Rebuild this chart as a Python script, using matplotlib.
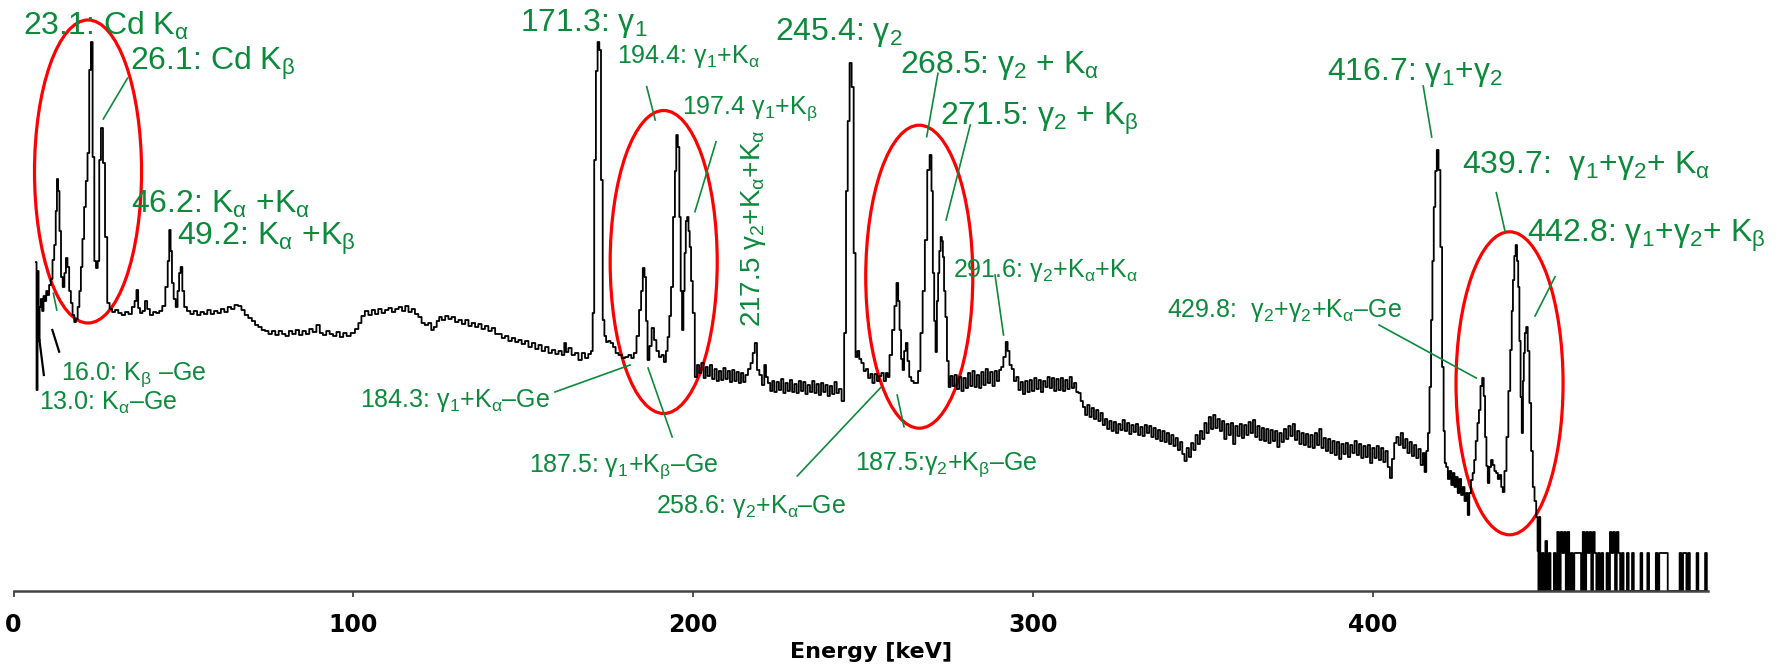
import numpy as np
import matplotlib.pyplot as plt
from matplotlib.patches import Ellipse

plt.rcParams['font.family'] = ['Liberation Sans', 'DejaVu Sans']
plt.rcParams['mathtext.fontset'] = 'custom'
plt.rcParams['mathtext.rm'] = 'Liberation Sans'
plt.rcParams['mathtext.it'] = 'Liberation Sans'
plt.rcParams['mathtext.bf'] = 'Liberation Sans:bold'
plt.rcParams['mathtext.default'] = 'regular'

# spectrum: (energy keV, counts, arb. units)
xray_region = [
    (6.6, 329), (6.9, 201), (7.2, 320), (7.5, 250), (7.8, 284), (8.2, 292), (8.6, 280),
    (9.0, 295), (9.4, 290), (9.8, 300), (10.2, 296), (10.7, 306), (11.2, 312), (11.7, 331),
    (12.2, 346), (12.6, 380), (12.9, 412), (13.3, 400), (13.7, 360), (14.2, 314), (14.7, 304),
    (15.2, 318), (15.6, 333), (16.1, 324), (16.6, 300), (17.1, 288), (17.6, 276), (18.1, 269),
    (18.6, 272), (19.1, 284), (19.6, 300), (20.0, 324), (20.5, 352), (21.0, 384), (21.5, 410),
    (22.0, 438), (22.5, 521), (23.0, 549), (23.5, 434), (24.0, 330), (24.5, 323), (25.0, 330),
    (25.4, 431), (26.0, 463), (26.6, 428), (27.2, 354), (27.9, 288), (28.6, 282), (29.4, 279),
    (30.3, 281), (31.3, 278), (32.3, 276), (33.3, 279), (34.3, 277), (35.3, 284), (35.9, 290),
    (36.4, 301), (36.9, 283), (37.5, 278), (38.3, 280), (39.0, 290), (39.6, 282), (40.6, 276),
    (41.5, 279), (42.4, 278), (43.3, 280), (44.2, 285), (45.1, 304), (45.6, 330), (46.0, 361),
    (46.4, 340), (46.8, 308), (47.4, 292), (48.0, 284), (48.5, 300), (48.9, 318), (49.4, 324),
    (49.9, 300), (50.5, 284),
]

bg_low = [
    (51.5, 280), (52.5, 277), (53.5, 280), (54.5, 276), (55.5, 279), (56.5, 277), (57.5, 281),
    (58.5, 277), (59.5, 280), (60.5, 278), (61.5, 282), (62.5, 279), (63.5, 284), (64.5, 282),
    (65.5, 286), (66.6, 285), (67.5, 281), (68.5, 276), (69.6, 273), (70.6, 270), (71.5, 266),
    (72.5, 264), (73.5, 261), (74.5, 260), (75.5, 257), (76.5, 260), (77.5, 256), (78.5, 260),
    (79.5, 257), (80.5, 255), (81.5, 260), (82.5, 257), (83.5, 261), (84.5, 256), (85.5, 260),
    (86.5, 257), (87.5, 262), (88.5, 259), (89.7, 266), (90.5, 258), (91.5, 256), (92.5, 260),
    (93.5, 257), (94.5, 255), (95.5, 259), (96.5, 254), (97.5, 258), (98.5, 255), (99.9, 258),
    (101.0, 262), (101.9, 268), (102.8, 275), (103.9, 280), (104.9, 276), (105.9, 281),
    (106.8, 277), (107.8, 282), (108.8, 278), (109.8, 281), (110.8, 283), (111.8, 279),
    (112.8, 282), (113.8, 284), (114.8, 280), (115.7, 285), (116.7, 279), (117.6, 282),
    (118.6, 277), (119.6, 274), (120.5, 268), (121.5, 266), (122.5, 268), (123.3, 261),
    (124.0, 264), (125.0, 270), (125.5, 274), (126.5, 271), (127.5, 275), (128.4, 272),
    (129.4, 274), (130.4, 269), (131.4, 271), (132.4, 267), (133.4, 271), (134.3, 265),
    (135.3, 268), (136.3, 264), (137.2, 267), (138.2, 262), (139.2, 265), (140.2, 260),
    (141.2, 263), (142.2, 257), (143.2, 257), (144.1, 253), (145.1, 255), (146.1, 250),
    (147.1, 253), (148.1, 249), (149.0, 251), (150.0, 247), (151.0, 250), (152.0, 244),
    (153.0, 248), (154.0, 242), (154.9, 246), (155.9, 240), (156.9, 244), (157.9, 238),
    (158.9, 241), (159.9, 237), (160.8, 240), (161.8, 236), (162.3, 248), (162.8, 239),
    (163.7, 243), (164.7, 236), (165.7, 238), (166.7, 231), (167.7, 238), (168.6, 233),
    (169.6, 237), (170.2, 240),
]

gamma1_region = [
    (170.6, 278), (171.1, 431), (171.6, 520), (172.1, 549), (172.6, 541), (173.1, 411),
    (173.6, 271), (174.1, 255), (174.6, 249), (175.3, 250), (176.0, 248), (176.8, 244),
    (177.5, 238), (178.5, 236), (179.5, 233), (180.4, 234), (181.4, 236), (182.1, 233),
    (182.9, 238), (183.7, 255), (184.4, 281), (184.9, 300), (185.4, 323), (185.9, 314),
    (186.3, 270), (186.8, 231), (187.4, 245), (188.1, 263), (188.8, 251), (189.5, 240),
    (190.3, 234), (191.0, 236), (191.7, 229), (192.2, 240), (192.7, 254), (193.2, 275),
    (193.7, 304), (194.4, 374), (194.8, 420), (195.2, 456), (195.7, 444), (196.1, 374),
    (196.5, 300), (196.9, 261), (197.3, 300), (197.6, 338), (198.0, 370), (198.4, 374),
    (198.8, 360), (199.1, 344), (199.6, 310), (200.1, 278), (200.8, 214), (201.4, 226),
    (202.0, 218), (202.7, 228), (203.4, 213), (203.9, 224), (204.6, 215), (205.2, 226),
    (205.9, 212), (206.6, 222), (207.2, 210), (207.9, 220), (208.5, 211), (209.2, 223),
    (209.8, 212), (210.5, 220), (211.1, 209), (211.8, 221), (212.4, 210), (213.1, 219),
    (213.7, 208), (214.4, 218), (215.0, 209), (215.7, 216), (216.5, 222),
]

gamma2_region = [
    (217.2, 228), (217.8, 238), (218.4, 248), (219.1, 221), (219.8, 216), (220.6, 206),
    (221.2, 226), (221.6, 214), (222.3, 208), (223.0, 200), (223.5, 210), (224.2, 199),
    (224.9, 209), (225.5, 201), (226.2, 212), (226.8, 198), (227.5, 208), (228.1, 200),
    (228.8, 211), (229.4, 199), (230.1, 207), (230.7, 198), (231.4, 210), (232.0, 200),
    (232.7, 209), (233.3, 197), (234.0, 206), (234.7, 199), (235.3, 210), (236.0, 198),
    (236.6, 207), (237.3, 196), (237.9, 208), (238.6, 199), (239.2, 206), (239.9, 195),
    (240.5, 205), (241.2, 197), (241.9, 209), (242.5, 198), (243.2, 202), (244.1, 190),
    (244.7, 258), (245.2, 400), (245.7, 470), (246.3, 528), (246.9, 504), (247.5, 338),
    (248.0, 234), (248.6, 240), (249.1, 232), (249.8, 228), (250.5, 220), (251.1, 222),
    (251.8, 213), (252.4, 217), (253.0, 208), (253.7, 217), (254.4, 210), (255.0, 215),
    (255.7, 218), (256.4, 210), (257.0, 218), (257.4, 214), (258.1, 236), (258.9, 261),
    (259.5, 285), (260.1, 308), (260.5, 290), (260.9, 261), (261.4, 232), (261.8, 221),
    (262.3, 240), (262.8, 248), (263.3, 230), (263.8, 214), (264.5, 210), (265.2, 208),
    (265.8, 208), (266.5, 220), (267.2, 258), (267.8, 300), (268.5, 351), (269.2, 421),
    (269.9, 436), (270.3, 400), (270.7, 318), (271.1, 270), (271.5, 239), (271.9, 290),
    (272.2, 318), (272.6, 340), (273.0, 354), (273.3, 350), (273.6, 334), (274.0, 300),
    (274.4, 274), (274.9, 230), (275.4, 204), (276.0, 215), (276.6, 205), (277.2, 216),
    (277.9, 202), (278.6, 214), (279.2, 200), (279.9, 213), (280.5, 203), (281.2, 218),
    (281.8, 205), (282.5, 220), (283.1, 204), (283.8, 216), (284.4, 203), (285.1, 219),
    (285.7, 206), (286.4, 222), (287.0, 208), (287.7, 219), (288.4, 205), (289.0, 220),
    (289.7, 210), (290.3, 221), (290.9, 224), (291.6, 234), (292.3, 249), (292.7, 240),
    (293.4, 226), (294.0, 222), (294.7, 210), (295.4, 214), (296.0, 201), (296.7, 209),
    (297.3, 197), (298.0, 210), (298.7, 199), (299.3, 211), (300.0, 200), (300.7, 213),
    (301.3, 202), (302.0, 211), (302.6, 199), (303.3, 210), (303.9, 204), (304.6, 214),
    (305.2, 203), (305.9, 213), (306.5, 200), (307.2, 212), (307.8, 201), (308.5, 213),
    (309.1, 200), (309.8, 211), (310.4, 202), (311.1, 214), (311.7, 203), (312.4, 208),
    (313.0, 199),
]

bg_high = [
    (313.7, 198), (314.3, 190), (315.0, 184), (315.6, 176), (316.3, 186), (316.9, 174),
    (317.6, 183), (318.2, 172), (318.9, 181), (319.5, 170), (320.2, 178), (320.8, 166),
    (321.5, 172), (322.1, 162), (322.8, 170), (323.4, 160), (324.1, 169), (324.7, 158),
    (325.4, 167), (326.0, 161), (326.7, 171), (327.3, 160), (328.0, 168), (328.6, 157),
    (329.3, 166), (329.9, 159), (330.6, 167), (331.2, 156), (331.9, 164), (332.5, 155),
    (333.2, 166), (333.8, 158), (334.5, 165), (335.1, 154), (335.8, 163), (336.4, 152),
    (337.1, 161), (337.7, 150), (338.4, 160), (339.0, 149), (339.7, 158), (340.3, 147),
    (341.0, 156), (341.6, 145), (342.3, 153), (342.9, 141), (343.6, 149), (344.2, 137),
    (344.9, 130), (345.5, 143), (346.2, 134), (346.8, 148), (347.5, 141), (348.1, 156),
    (348.8, 147), (349.4, 160), (350.1, 152), (350.7, 168), (351.4, 158), (352.0, 174),
    (352.7, 162), (353.3, 176), (354.0, 163), (354.6, 172), (355.3, 160), (355.9, 170),
    (356.6, 152), (357.2, 167), (357.9, 156), (358.5, 168), (359.2, 147), (359.8, 165),
    (360.5, 155), (361.1, 167), (361.8, 153), (362.4, 166), (363.1, 156), (363.7, 169),
    (364.4, 158), (365.0, 171), (365.7, 154), (366.3, 165), (367.0, 151), (367.6, 163),
    (368.3, 150), (368.9, 162), (369.6, 148), (370.2, 161), (370.9, 150), (371.5, 160),
    (372.2, 144), (372.8, 158), (373.5, 149), (374.1, 162), (374.8, 152), (375.4, 165),
    (376.1, 155), (376.7, 167), (377.4, 151), (378.0, 160), (378.7, 147), (379.3, 158),
    (380.0, 146), (380.6, 157), (381.3, 144), (381.9, 156), (382.6, 143), (383.2, 158),
    (383.9, 146), (384.5, 162), (385.2, 143), (385.8, 153), (386.5, 140), (387.1, 152),
    (387.8, 138), (388.4, 150), (389.1, 136), (389.7, 149), (390.4, 132), (391.0, 147),
    (391.7, 137), (392.3, 148), (393.0, 134), (393.6, 146), (394.3, 138), (394.9, 150),
    (395.6, 136), (396.2, 147), (396.9, 133), (397.5, 145), (398.2, 134), (398.8, 146),
    (399.5, 128), (400.1, 143), (400.8, 133), (401.4, 145), (402.1, 131), (402.7, 143),
    (403.4, 129), (404.0, 140), (404.7, 124), (405.3, 113), (405.9, 132), (406.6, 148),
    (407.2, 154), (407.9, 146), (408.5, 158), (409.2, 143), (409.8, 152), (410.5, 138),
    (411.1, 149), (411.8, 135), (412.4, 146), (413.1, 133), (413.7, 142), (414.4, 126),
    (415.0, 138), (415.4, 119), (416.0, 140),
]

sum_region = [
    (416.4, 158), (416.9, 204), (417.3, 271), (417.7, 330), (418.1, 384), (418.6, 420),
    (419.0, 441), (419.6, 421), (420.1, 344), (420.6, 224), (421.0, 160), (421.3, 128),
    (421.8, 124), (422.3, 112), (422.8, 120), (423.3, 106), (423.8, 118), (424.2, 104),
    (424.7, 114), (425.2, 98), (425.7, 112), (426.2, 96), (426.7, 104), (427.2, 90),
    (427.7, 98), (428.1, 76), (428.6, 98), (429.1, 111), (429.6, 118), (430.0, 131),
    (430.5, 150), (431.0, 168), (431.4, 181), (431.9, 205), (432.4, 213), (432.8, 195),
    (433.2, 154), (433.6, 125), (434.0, 108), (434.5, 124), (435.0, 131), (435.5, 126),
    (436.0, 120), (436.5, 118), (437.0, 112), (437.5, 116), (438.0, 104), (438.4, 99),
    (439.0, 120), (439.6, 154), (440.1, 200), (440.7, 241), (441.0, 280), (441.4, 311),
    (441.8, 335), (442.2, 346), (442.6, 330), (442.9, 304), (443.3, 250), (443.6, 194),
    (444.0, 158), (444.3, 210), (444.5, 238), (444.9, 258), (445.3, 264), (445.8, 240),
    (446.3, 188), (446.8, 140), (447.3, 104), (447.8, 90), (448.3, 74), (448.6, 40),
    (448.8, 0),
]

tail = [
    (449.0, 74), (449.5, 0), (450.0, 38), (450.5, 0), (451.0, 50), (451.5, 0), (452.0, 38),
    (452.5, 0), (453.0, 0), (453.5, 38), (454.0, 0), (454.5, 59), (455.0, 0), (455.5, 59),
    (456.0, 38), (456.5, 59), (457.0, 0), (457.5, 59), (458.0, 0), (458.5, 38), (459.0, 0),
    (459.5, 38), (460.0, 38), (460.5, 38), (461.0, 38), (461.5, 0), (462.0, 59), (462.5, 0),
    (463.0, 59), (463.5, 38), (464.0, 59), (464.5, 0), (465.0, 59), (465.5, 38), (466.0, 0),
    (466.5, 38), (467.0, 0), (467.5, 38), (468.0, 0), (468.5, 0), (469.0, 38), (469.5, 0),
    (470.0, 59), (470.5, 38), (471.0, 59), (471.5, 0), (472.0, 59), (472.5, 38), (473.0, 0),
    (473.5, 38), (474.0, 0), (474.5, 0), (475.0, 38), (475.5, 0), (476.0, 0), (476.5, 38),
    (477.0, 0), (477.5, 0), (478.0, 0), (478.5, 0), (479.0, 38), (479.5, 0), (480.0, 0),
    (480.5, 0), (481.0, 38), (481.5, 0), (482.0, 0), (482.5, 0), (483.0, 0), (483.5, 38),
    (484.0, 0), (484.5, 38), (485.0, 38), (485.5, 38), (486.0, 38), (486.5, 38), (487.0, 0),
    (487.5, 0), (488.0, 0), (488.5, 0), (489.0, 0), (489.5, 0), (490.0, 0), (490.5, 38),
    (491.0, 0), (491.5, 38), (492.0, 38), (492.5, 0), (493.0, 38), (493.5, 0), (494.0, 0),
    (494.5, 0), (495.0, 0), (495.5, 38), (496.0, 0), (496.5, 0), (497.0, 0), (497.5, 0),
    (498.0, 38), (498.5, 0),
]

# peak labels: text, x (keV), y
big_labels = [
    ("23.1: Cd K$_α$", 2.8, 556),
    ("26.1: Cd K$_β$", 34.3, 521),
    ("46.2: K$_α$ +K$_α$", 34.5, 378),
    ("49.2: K$_α$ +K$_β$", 48.1, 346),
    ("171.3: γ$_1$", 149.0, 560),
    ("245.4: γ$_2$", 224.1, 551),
    ("268.5: γ$_2$ + K$_α$", 260.9, 518),
    ("271.5: γ$_2$ + K$_β$", 272.6, 466),
    ("416.7: γ$_1$+γ$_2$", 386.5, 511),
    ("439.7:  γ$_1$+γ$_2$+ K$_α$", 426.2, 418),
    ("442.8: γ$_1$+γ$_2$+ K$_β$", 445.4, 349),
]
small_labels = [
    ("16.0: K$_β$ –Ge", 13.9, 211),
    ("13.0: K$_α$–Ge", 7.5, 181),
    ("194.4: γ$_1$+K$_α$", 177.6, 528),
    ("197.4 γ$_1$+K$_β$", 196.7, 477),
    ("291.6: γ$_2$+K$_α$+K$_α$", 276.5, 314),
    ("184.3: γ$_1$+K$_α$–Ge", 101.9, 184),
    ("187.5: γ$_1$+K$_β$–Ge", 151.7, 119),
    ("258.6: γ$_2$+K$_α$–Ge", 189.1, 78),
    ("187.5:γ$_2$+K$_β$–Ge", 247.6, 121),
    ("429.8:  γ$_2$+γ$_2$+K$_α$–Ge", 339.4, 274),
]

# leader lines (x0, y0, x1, y1)
green_leaders = [
    (33.5, 512.7, 26.4, 472), (11.7, 297.7, 12.7, 281),
    (186.3, 504.3, 188.8, 471), (206.7, 449.3, 200.5, 379.3),
    (159.3, 199, 181.4, 226), (186.7, 223, 193.8, 154),
    (230.6, 115, 255.3, 204), (260.0, 196, 262.0, 164.3),
    (272.0, 517.7, 268.7, 454.3), (281.5, 466, 274.4, 371),
    (288.8, 316, 291.3, 256), (414.8, 505, 417.3, 454),
    (436.3, 398.3, 438.9, 359.3), (453.6, 314.3, 447.7, 275),
    (401.8, 266, 430.4, 213),
]
black_leaders = [(11.4, 261, 13.4, 239.3), (7.6, 251, 8.9, 216)]

# circled groups: centre (keV, y)
circles = [(21.9, 419.5), (191.3, 329), (266.5, 314.3), (440.2, 207.7)]

green = '#0c8a3c'

fig = plt.figure(figsize=(17.79, 6.64), dpi=100)
ax = fig.add_axes([13.6 / 1779, 73 / 664, (1708 - 13.6) / 1779, 591 / 664])

spectrum = np.array(xray_region + bg_low + gamma1_region + gamma2_region
                    + bg_high + sum_region + tail)
ax.plot(spectrum[:, 0], spectrum[:, 1], color='black', lw=1.3, drawstyle='steps-mid')

for x0, y0, x1, y1 in green_leaders:
    ax.plot([x0, x1], [y0, y1], color=green, lw=1.2, clip_on=False)
for x0, y0, x1, y1 in black_leaders:
    ax.plot([x0, x1], [y0, y1], color='black', lw=1.6, clip_on=False)

for cx, cy in circles:
    ax.add_patch(Ellipse((cx, cy), 31.5, 303, fill=False, ec='#ff0000', lw=2.3, clip_on=False))

for txt, x, y in big_labels:
    ax.text(x, y, txt, color=green, fontsize=23, ha='left', va='baseline')
for txt, x, y in small_labels:
    ax.text(x, y, txt, color=green, fontsize=18, ha='left', va='baseline')
ax.text(219.7, 264, "217.5 γ$_2$+K$_α$+K$_α$", color=green, fontsize=20, rotation=90,
        rotation_mode='anchor', ha='left', va='baseline')

ax.set_xlim(0, 498.6)
ax.set_ylim(0, 591)
ax.set_yticks([])
for s in ['left', 'right', 'top']:
    ax.spines[s].set_visible(False)
ax.spines['bottom'].set_color('#444444')
ax.spines['bottom'].set_linewidth(1.8)
ax.set_xticks([0, 100, 200, 300, 400])
ax.tick_params(axis='x', length=4.5, width=1.3, color='#444444', pad=11, labelsize=17)
plt.setp(ax.get_xticklabels(), family='DejaVu Sans', fontweight='bold')

fig.text(871 / 1779, 6 / 664, 'Energy [keV]', family='DejaVu Sans', fontweight='bold',
         fontsize=16, ha='center', va='baseline')

fig.savefig('out.png', dpi=100)
